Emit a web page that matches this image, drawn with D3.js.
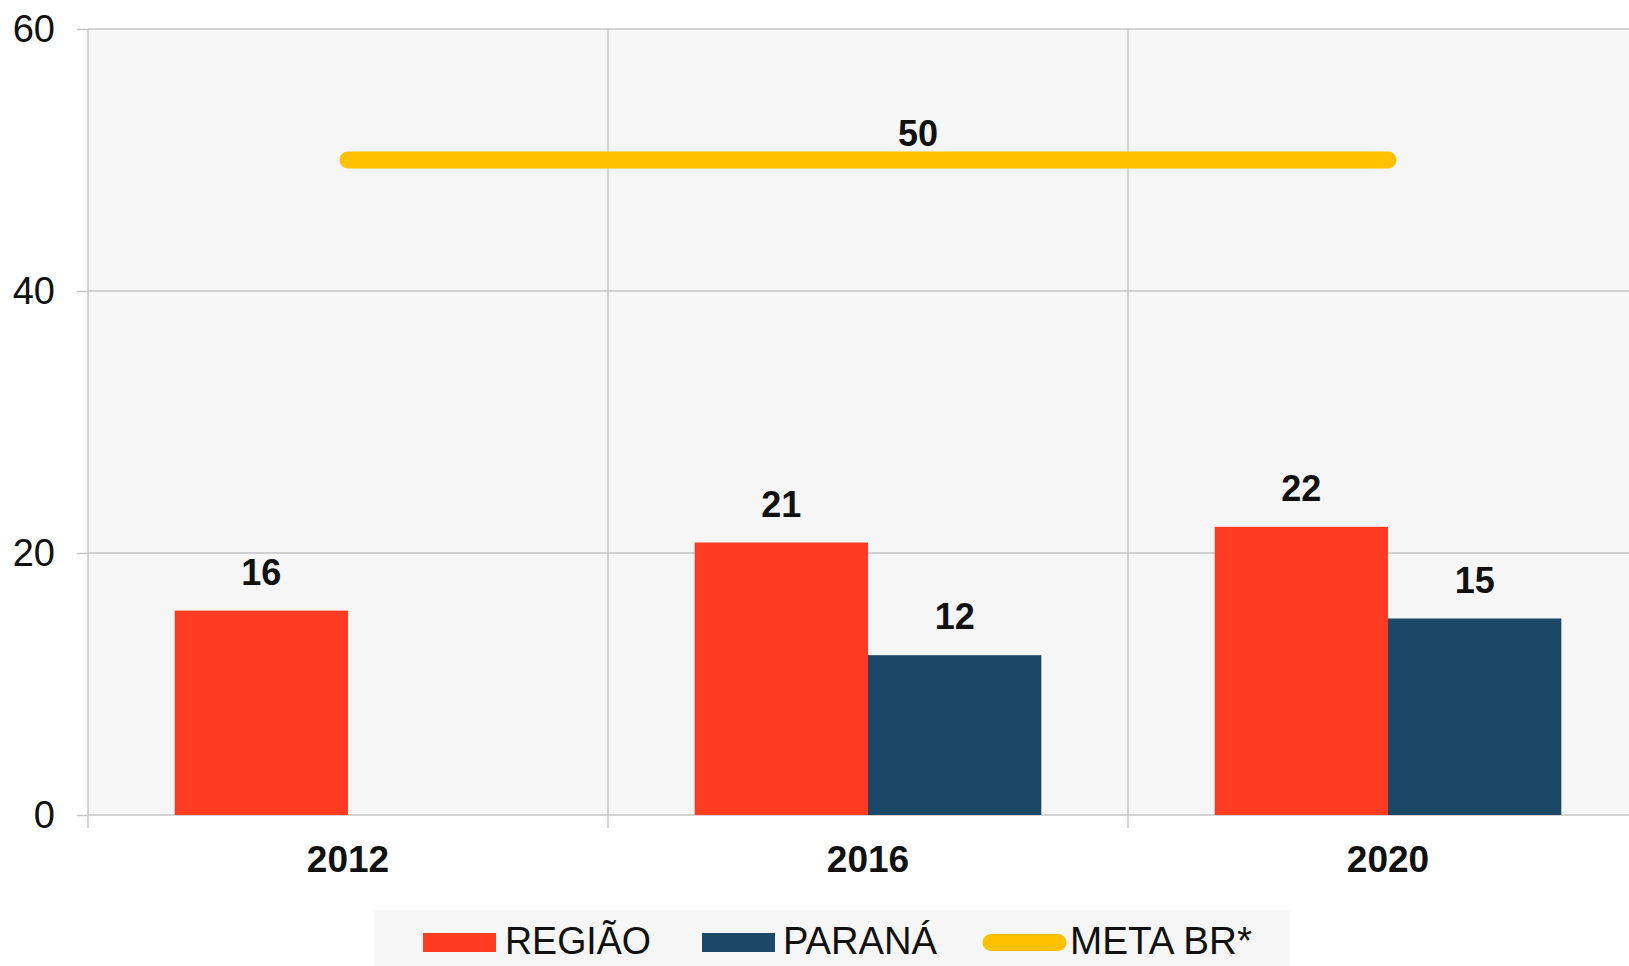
<!DOCTYPE html>
<html>
<head>
<meta charset="utf-8">
<script src="https://cdn.jsdelivr.net/npm/d3@7"></script>
<style>
  body { margin: 0; background: #fff; overflow: hidden; }
  text { font-family: "Liberation Sans", Arial, sans-serif; }
</style>
</head>
<body>
<svg width="1629" height="966"></svg>
<script>
// chart data
const years = ["2012", "2016", "2020"];
const regiao = [15.6, 20.8, 22.0];
const parana = [null, 12.2, 15.0];
const metaBR = [50, 50, 50];
const yTicks = [0, 20, 40, 60];
const seriesNames = ["REGIÃO", "PARANÁ", "META BR*"];

const colors = { regiao: "#ff3b22", parana: "#1c4868", meta: "#ffc000" };

var svg = d3.select("svg"),
    plotLeft = 88, plotRight = 1648, plotTop = 29, plotBottom = 815;

// scales
var x = d3.scaleBand().domain(years).range([plotLeft, plotRight]).padding(0);
var xs = d3.scaleBand().domain(["regiao", "parana"]).range([0, x.bandwidth()])
    .paddingInner(0).paddingOuter(0.5);
var y = d3.scaleLinear().domain([0, 60]).range([plotBottom, plotTop]);

// plot background
svg.append("rect")
    .attr("x", plotLeft).attr("y", plotTop)
    .attr("width", plotRight - plotLeft).attr("height", plotBottom - plotTop)
    .attr("fill", "#f6f6f6");

// horizontal gridlines + y axis
svg.append("g").selectAll("line")
    .data(yTicks).enter().append("line")
    .attr("x1", plotLeft).attr("x2", plotRight)
    .attr("y1", d => y(d)).attr("y2", d => y(d))
    .attr("stroke", "#c4c4c4").attr("stroke-width", 1.5);

var yAxis = svg.append("g")
    .attr("transform", "translate(" + plotLeft + ",0)")
    .call(d3.axisLeft(y).tickValues(yTicks).tickSize(11).tickPadding(22));
yAxis.select(".domain").remove();
yAxis.selectAll("line").attr("stroke", "#c4c4c4").attr("stroke-width", 1.5);
yAxis.selectAll("text")
    .attr("font-size", 38).attr("fill", "#111")
    .attr("font-family", "Liberation Sans, Arial, sans-serif");

// vertical gridlines at category boundaries
svg.append("g").selectAll("line")
    .data(years).enter().append("line")
    .attr("x1", d => x(d)).attr("x2", d => x(d))
    .attr("y1", plotTop).attr("y2", plotBottom + 13)
    .attr("stroke", "#c4c4c4").attr("stroke-width", 1.5);

// x labels
svg.append("g").selectAll("text")
    .data(years).enter().append("text")
    .attr("x", d => x(d) + x.bandwidth() / 2)
    .attr("y", plotBottom + 57)
    .attr("text-anchor", "middle")
    .attr("font-size", 37).attr("font-weight", "bold").attr("fill", "#111")
    .text(d => d);

// bars
var fmt = d3.format(".0f");
var bars = [];
years.forEach(function (yr, i) {
    if (regiao[i] != null) bars.push({ year: yr, key: "regiao", value: regiao[i] });
    if (parana[i] != null) bars.push({ year: yr, key: "parana", value: parana[i] });
});

svg.append("g").selectAll("rect")
    .data(bars).enter().append("rect")
    .attr("x", d => x(d.year) + xs(d.key))
    .attr("y", d => y(d.value))
    .attr("width", xs.bandwidth())
    .attr("height", d => plotBottom - y(d.value))
    .attr("fill", d => colors[d.key]);

svg.append("g").selectAll("text")
    .data(bars).enter().append("text")
    .attr("x", d => x(d.year) + xs(d.key) + xs.bandwidth() / 2)
    .attr("y", d => y(d.value) - 26)
    .attr("text-anchor", "middle")
    .attr("font-size", 36).attr("font-weight", "bold").attr("fill", "#111")
    .text(d => fmt(d.value));

// meta line
var line = d3.line()
    .x((d, i) => x(years[i]) + x.bandwidth() / 2)
    .y(d => y(d));

svg.append("path")
    .datum(metaBR)
    .attr("d", line)
    .attr("fill", "none")
    .attr("stroke", colors.meta)
    .attr("stroke-width", 17)
    .attr("stroke-linecap", "round");

svg.append("text")
    .attr("x", x(years[1]) + x.bandwidth() / 2 + 50)
    .attr("y", y(metaBR[1]) - 14)
    .attr("text-anchor", "middle")
    .attr("font-size", 36).attr("font-weight", "bold").attr("fill", "#111")
    .text(fmt(metaBR[1]));

// legend
var legend = svg.append("g");
legend.append("rect")
    .attr("x", 374).attr("y", 910)
    .attr("width", 916).attr("height", 60)
    .attr("fill", "#f6f6f6");

var legendItems = [
    { name: seriesNames[0], color: colors.regiao, type: "rect", sx: 423, tx: 505, tw: 146 },
    { name: seriesNames[1], color: colors.parana, type: "rect", sx: 702, tx: 783, tw: 154 },
    { name: seriesNames[2], color: colors.meta, type: "line", sx: 982, tx: 1070, tw: 182 }
];

legendItems.forEach(function (it) {
    if (it.type === "rect") {
        legend.append("rect")
            .attr("x", it.sx).attr("y", 933)
            .attr("width", 73).attr("height", 19)
            .attr("fill", it.color);
    } else {
        legend.append("line")
            .attr("x1", it.sx + 9).attr("x2", it.sx + 76)
            .attr("y1", 942.5).attr("y2", 942.5)
            .attr("stroke", it.color).attr("stroke-width", 17)
            .attr("stroke-linecap", "round");
    }
    legend.append("text")
        .attr("x", it.tx).attr("y", 954)
        .attr("font-size", 38).attr("fill", "#111")
        .attr("textLength", it.tw).attr("lengthAdjust", "spacingAndGlyphs")
        .text(it.name);
});
</script>
</body>
</html>
